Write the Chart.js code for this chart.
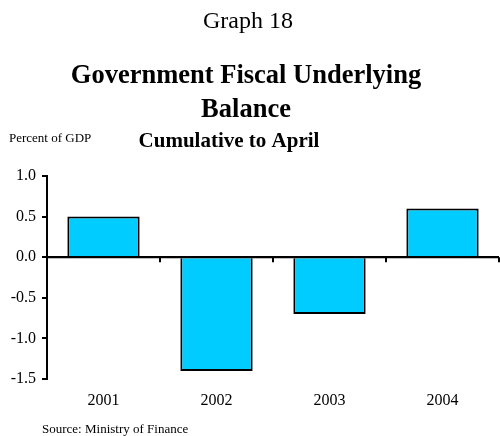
<!DOCTYPE html>
<html lang="en">
<head>
  <meta charset="UTF-8">
  <title>Graph 18 - Government Fiscal Underlying Balance</title>
  <script src="https://cdn.jsdelivr.net/npm/chart.js"></script>
  <style>
    html, body { margin: 0; padding: 0; background: #fff; }
    #wrap { width: 500px; height: 436px; position: relative; }
  </style>
</head>
<body>
<div id="wrap">
  <canvas id="balanceChart" width="500" height="436"></canvas>
</div>

<script>
  // Data
  const years = ['2001', '2002', '2003', '2004'];
  const balance = [0.5, -1.4, -0.7, 0.6];
  const yTicks = [1.0, 0.5, 0.0, -0.5, -1.0, -1.5];

  const serif = '"Liberation Serif", "Times New Roman", serif';

  // Zero line over the bars, with small downward ticks between categories
  const zeroTicks = {
    id: 'zeroTicks',
    afterDatasetsDraw(chart) {
      const x = chart.scales.x, y = chart.scales.y;
      const y0 = y.getPixelForValue(0);
      const half = (x.getPixelForValue(1) - x.getPixelForValue(0)) / 2;
      const ctx = chart.ctx;
      ctx.save();
      ctx.strokeStyle = '#000';
      ctx.lineWidth = 2;
      ctx.beginPath();
      ctx.moveTo(chart.chartArea.left, y0);
      ctx.lineTo(chart.chartArea.right, y0);
      ctx.stroke();
      for (let i = 0; i < years.length; i++) {
        const px = x.getPixelForValue(i) + half;
        ctx.beginPath();
        ctx.moveTo(px, y0);
        ctx.lineTo(px, y0 + 5);
        ctx.stroke();
      }
      ctx.restore();
    }
  };

  // Headings, axis unit and source note
  const headings = {
    id: 'headings',
    afterDraw(chart) {
      const ctx = chart.ctx;
      ctx.save();
      ctx.fillStyle = '#000';
      ctx.textBaseline = 'alphabetic';

      ctx.textAlign = 'center';
      ctx.font = '24px ' + serif;
      ctx.fillText('Graph 18', 248, 28);

      ctx.font = 'bold 26.5px ' + serif;
      ctx.fillText('Government Fiscal Underlying', 246, 83);
      ctx.fillText('Balance', 246, 117);

      ctx.font = 'bold 21px ' + serif;
      ctx.fillText('Cumulative to April', 229, 147);

      ctx.textAlign = 'left';
      ctx.font = '13px ' + serif;
      ctx.fillText('Percent of GDP', 9, 142);
      ctx.fillText('Source: Ministry of Finance', 42, 433);
      ctx.restore();
    }
  };

  new Chart(document.getElementById('balanceChart'), {
    type: 'bar',
    data: {
      labels: years,
      datasets: [{
        data: balance,
        backgroundColor: '#00CCFF',
        borderColor: '#000',
        borderWidth: 2,
        borderSkipped: 'start',
        inflateAmount: 0,
        categoryPercentage: 1.0,
        barPercentage: 0.64
      }]
    },
    options: {
      responsive: false,
      animation: false,
      layout: { padding: { top: 176, right: 1, bottom: 0, left: 0 } },
      plugins: {
        legend: { display: false },
        tooltip: { enabled: false },
        title: { display: false }
      },
      scales: {
        x: {
          grid: { display: false, drawTicks: false },
          border: { display: false },
          ticks: {
            color: '#000',
            font: { family: serif, size: 16 },
            padding: 12
          },
          afterFit(scale) { scale.height = 57; }
        },
        y: {
          min: -1.5,
          max: 1.0,
          afterBuildTicks(scale) {
            scale.ticks = yTicks.map(v => ({ value: v }));
          },
          grid: {
            color: ctx => (ctx.tick && ctx.tick.value === 0 ? '#000' : 'rgba(0,0,0,0)'),
            lineWidth: 2,
            tickColor: '#000',
            tickWidth: 2,
            tickLength: 5
          },
          border: { display: true, color: '#000', width: 2 },
          ticks: {
            color: '#000',
            font: { family: serif, size: 16 },
            padding: 6,
            callback: v => Number(v).toFixed(1)
          },
          afterFit(scale) { scale.width = 47; }
        }
      }
    },
    plugins: [zeroTicks, headings]
  });
</script>
</body>
</html>
